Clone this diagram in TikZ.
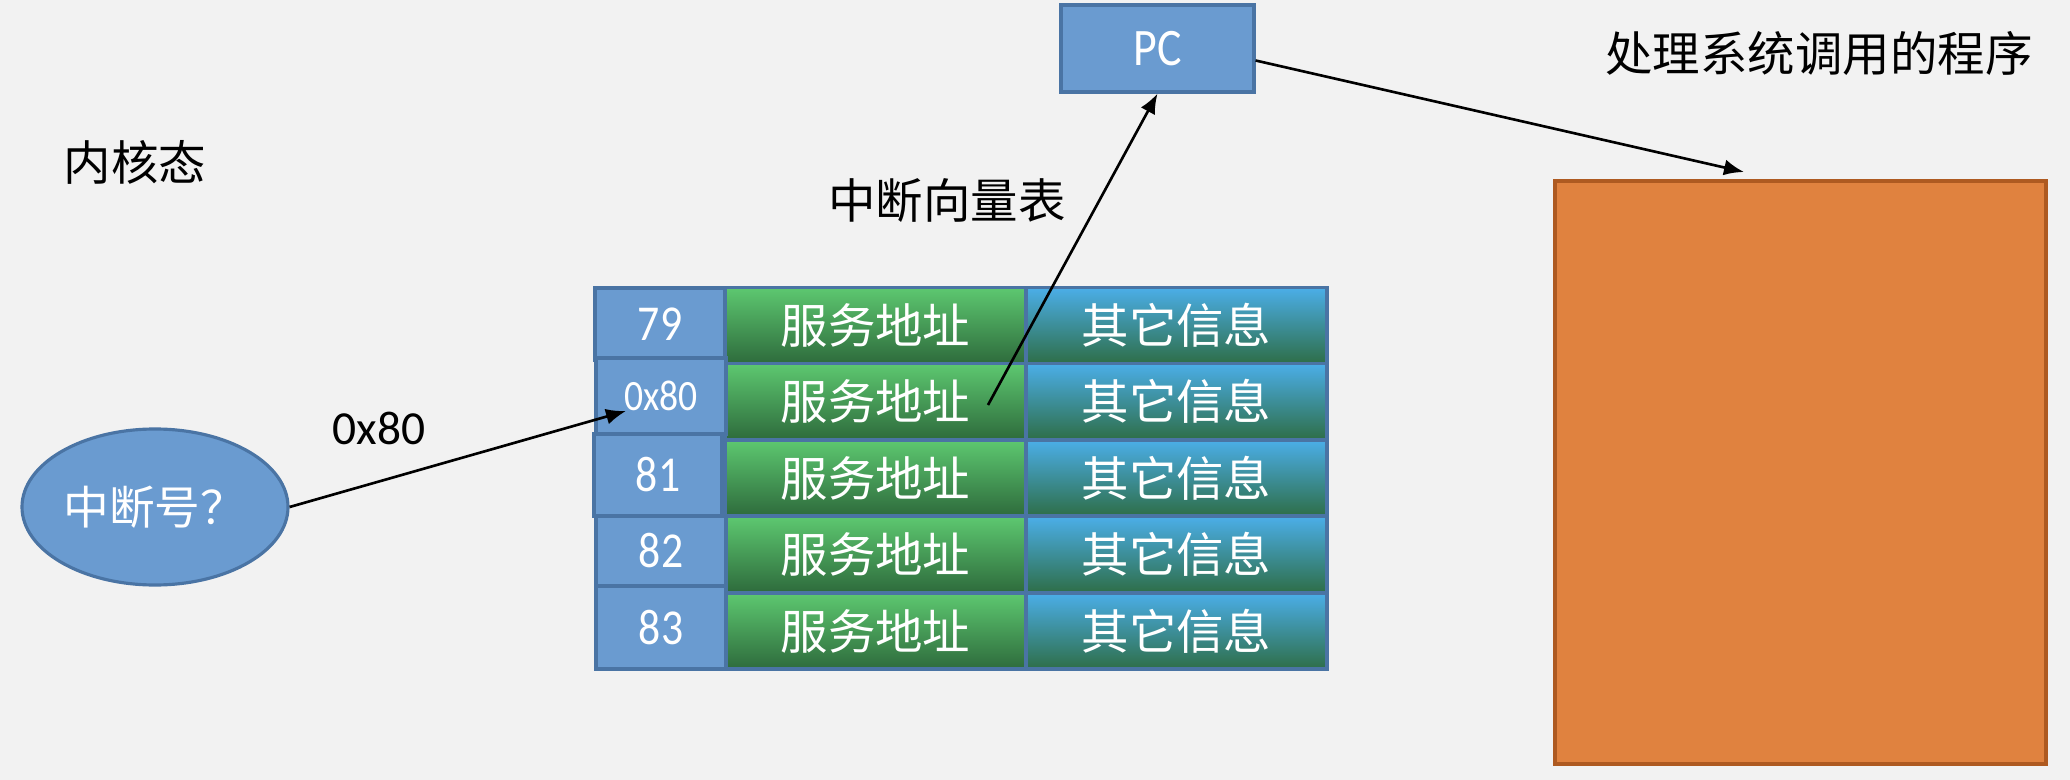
\documentclass[tikz,border=0pt]{standalone}
\usepackage{fontspec}
\setmainfont{Carlito}
\newfontfamily\cjk{Noto Sans CJK SC}
\newfontfamily\numfont[FakeStretch=0.87]{Carlito}
\usetikzlibrary{arrows.meta,shapes.geometric}
\definecolor{bgpanel}{HTML}{F2F2F2}
\definecolor{cellblue}{HTML}{6A9BD0}
\definecolor{cellline}{HTML}{4A74A4}
\definecolor{addrtop}{HTML}{5DC870}
\definecolor{addrbot}{HTML}{2E6B3C}
\definecolor{infotop}{HTML}{4BAEE8}
\definecolor{infobot}{HTML}{2E6E48}
\definecolor{progfill}{HTML}{E0823F}
\definecolor{progline}{HTML}{AE5A21}
\tikzset{
  numcell/.style={draw=cellline, line width=0.9pt, fill=cellblue, text=white, minimum width=1.3cm, inner sep=0pt, font=\numfont\fontsize{14.3}{16}\selectfont},
  addrcell/.style={draw=cellline, line width=0.9pt, top color=addrtop, bottom color=addrbot, text=white, minimum width=3.01cm, minimum height=0.76cm, inner sep=0pt, font=\cjk\fontsize{13.5}{16}\selectfont},
  infocell/.style={draw=cellline, line width=0.9pt, top color=infotop, bottom color=infobot, text=white, minimum width=3.01cm, minimum height=0.76cm, inner sep=0pt, font=\cjk\fontsize{13.5}{16}\selectfont},
  heading/.style={text=black, inner sep=0pt, font=\cjk\fontsize{13.5}{16}\selectfont},
  link/.style={-{Latex[length=0.2cm,width=0.16cm]}, line width=0.75pt}
}
\begin{document}
\begin{tikzpicture}
        \fill[bgpanel] (0,0) rectangle (20.7,-7.8);
        \useasboundingbox (0,0) rectangle (20.7,-7.8);
        \node[heading] (kernel) at (1.35,-1.62) {内核态};
        \node[heading] (title) at (9.47,-2.01) {中断向量表};
        \node[heading] (handler) at (18.19,-0.53) {处理系统调用的程序};
        \node[draw=progline, line width=0.9pt, fill=progfill, minimum width=4.91cm, minimum height=5.83cm] (prog) at (18.005,-4.725) {};
        \node[draw=cellline, line width=0.9pt, fill=cellblue, text=white, minimum width=1.93cm, minimum height=0.87cm, font=\numfont\fontsize{15}{17}\selectfont] (pc) at (11.575,-0.485) {PC};
        \node[ellipse, draw=cellline, line width=0.9pt, fill=cellblue, text=white, minimum width=2.66cm, minimum height=1.56cm, inner sep=0pt, font=\cjk\fontsize{13}{15}\selectfont] (intno) at (1.55,-5.07) {中断号？};
        \node[inner sep=0pt, font=\fontsize{13.5}{15}\selectfont] (vec) at (3.79,-4.28) {0x80};
        \node[addrcell] (a79) at (8.755,-3.255) {服务地址};
        \node[addrcell] (a80) at (8.755,-4.015) {服务地址};
        \node[addrcell] (a81) at (8.755,-4.78) {服务地址};
        \node[addrcell] (a82) at (8.755,-5.545) {服务地址};
        \node[addrcell] (a83) at (8.755,-6.31) {服务地址};
        \node[infocell] (i79) at (11.765,-3.255) {其它信息};
        \node[infocell] (i80) at (11.765,-4.015) {其它信息};
        \node[infocell] (i81) at (11.765,-4.78) {其它信息};
        \node[infocell] (i82) at (11.765,-5.545) {其它信息};
        \node[infocell] (i83) at (11.765,-6.31) {其它信息};
        \node[numcell, minimum height=0.72cm] (n79) at (6.60,-3.24) {79};
        \node[numcell, minimum height=0.76cm, font=\numfont\fontsize{12.3}{14}\selectfont] (n80) at (6.61,-3.96) {0x80};
        \node[numcell, minimum height=0.82cm, minimum width=1.28cm] (n81) at (6.58,-4.75) {81};
        \node[numcell, minimum height=0.70cm] (n82) at (6.61,-5.51) {82};
        \node[numcell, minimum height=0.83cm] (n83) at (6.61,-6.275) {83};
        \coordinate (hit) at (6.26,-4.11);
        \coordinate (srv) at (9.88,-4.05);
        \coordinate (entry) at (17.44,-1.72);
        \draw[link] (intno.east) -- (hit);
        \draw[link] (srv) -- (pc.south);
        \draw[link] ([yshift=-0.12cm]pc.east) -- (entry);
        \end{tikzpicture}
\end{document}
